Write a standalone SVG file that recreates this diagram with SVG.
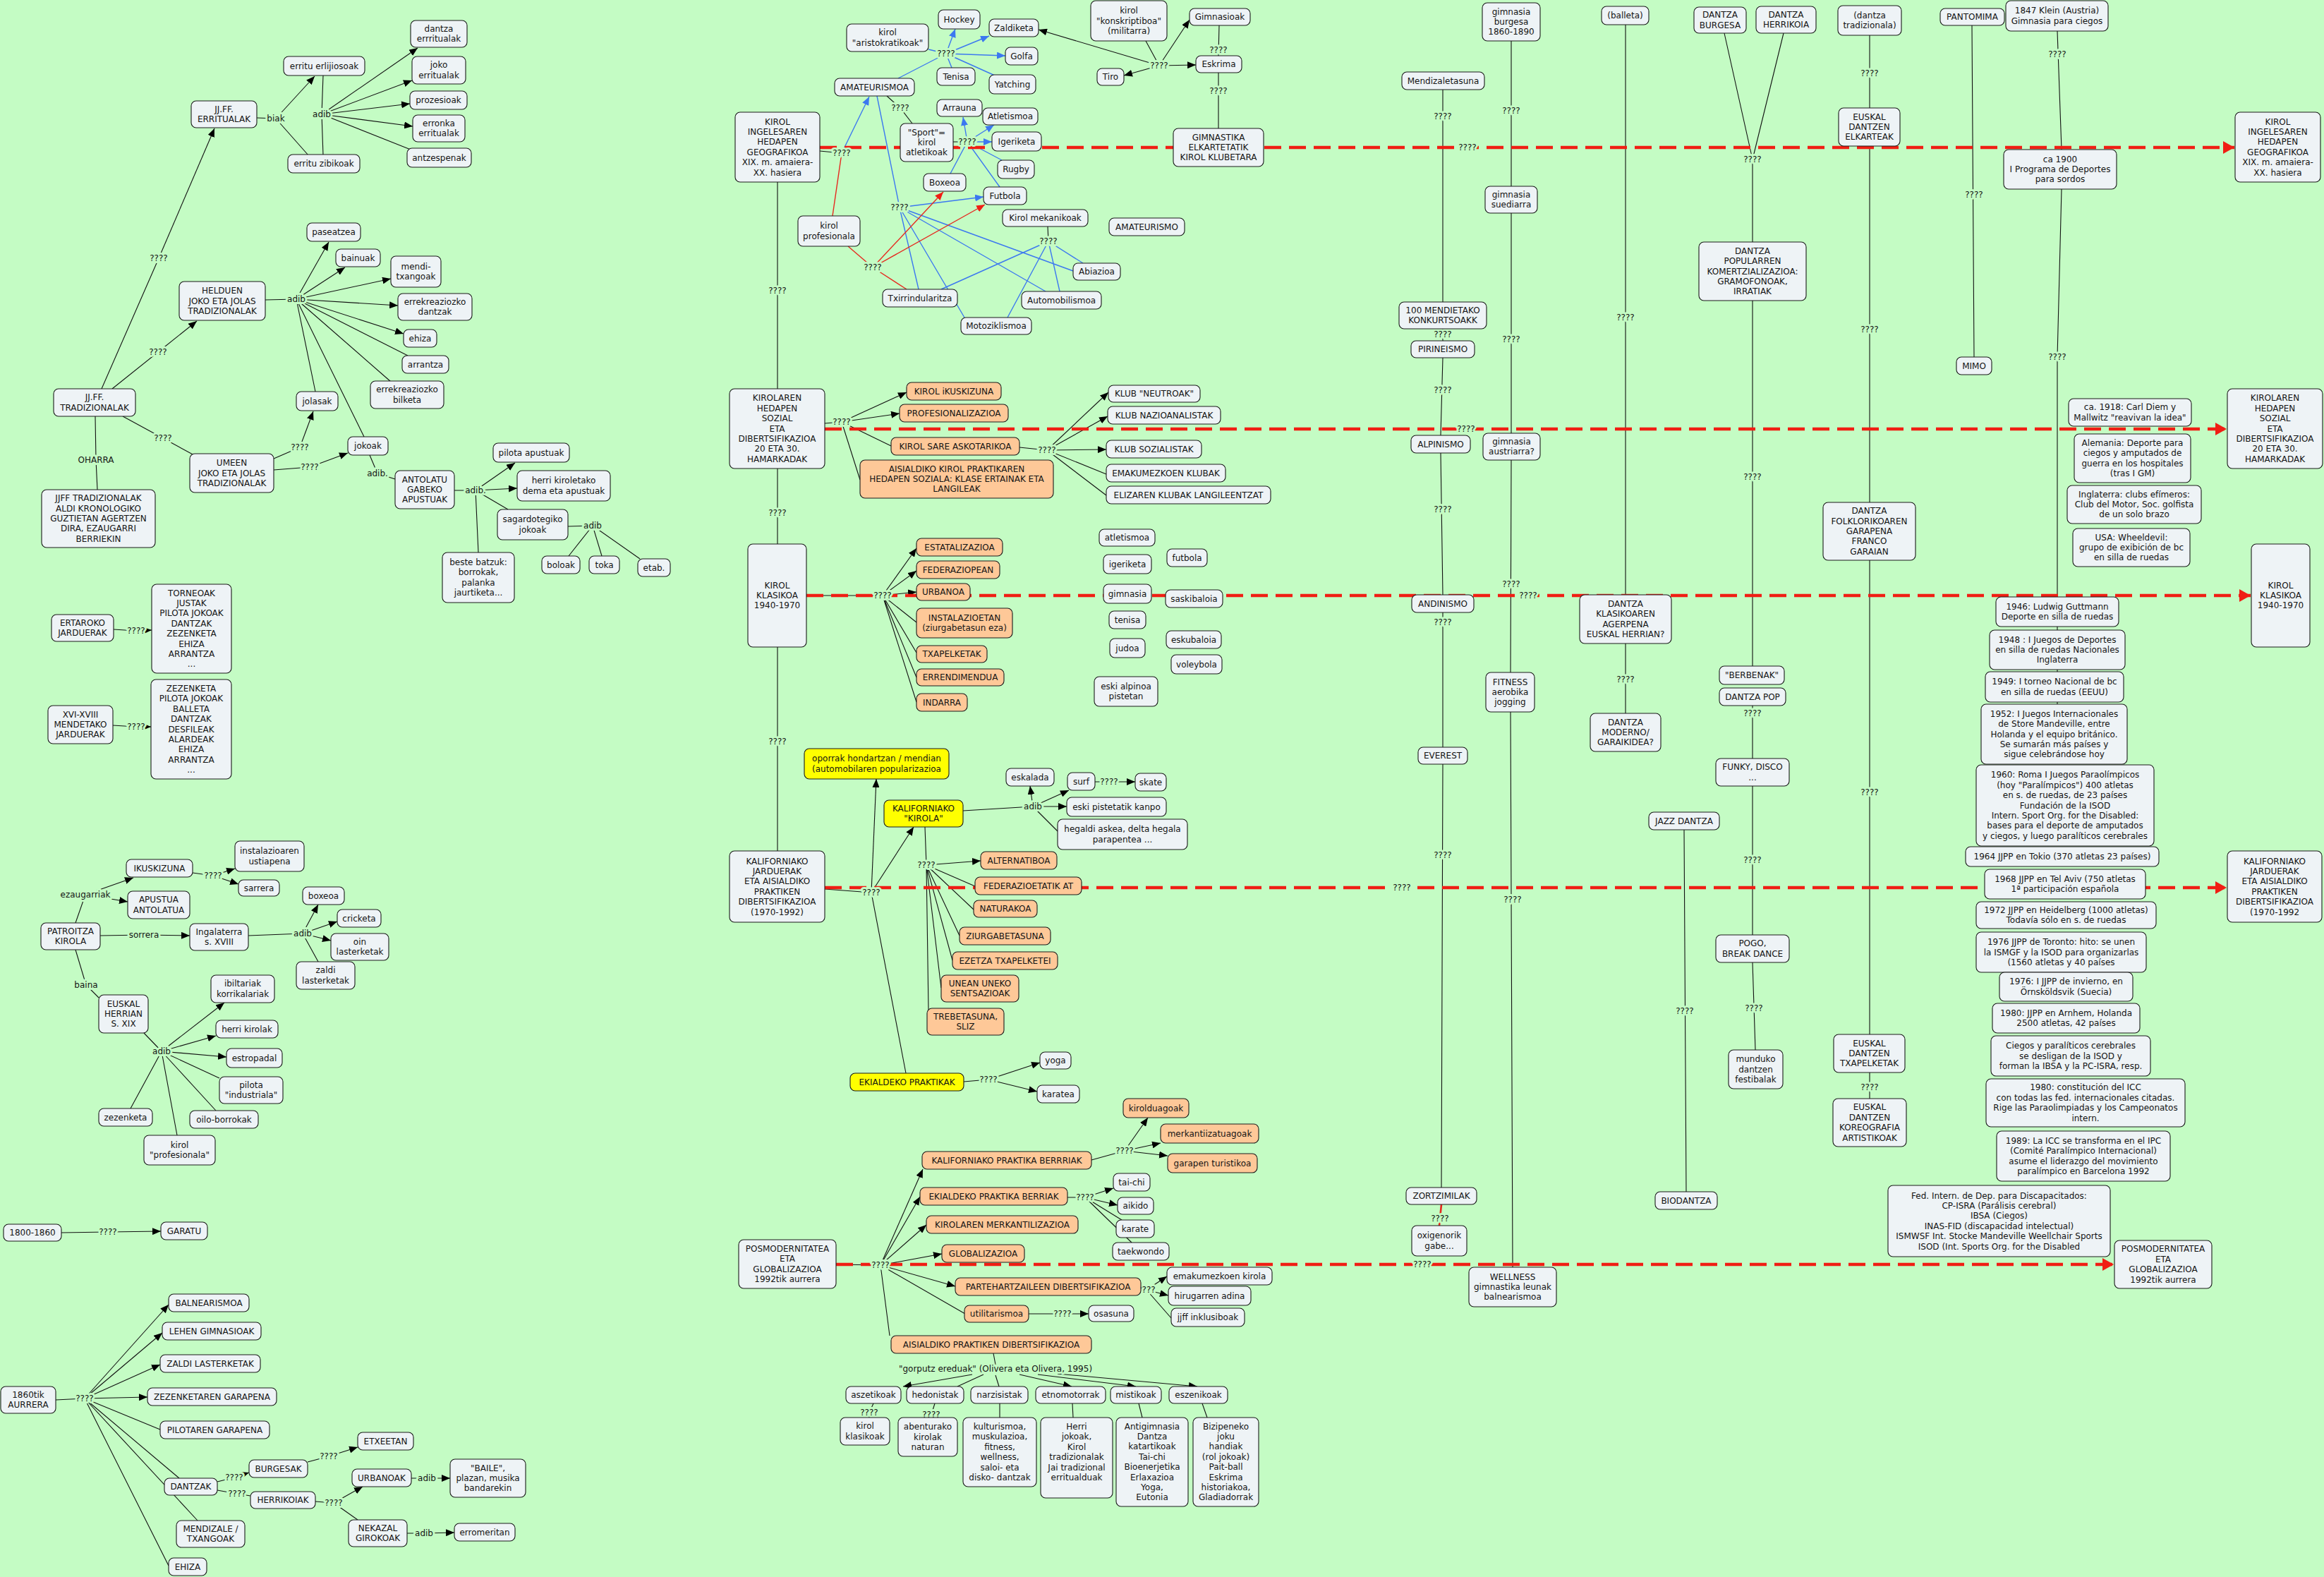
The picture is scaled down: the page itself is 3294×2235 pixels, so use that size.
<svg xmlns="http://www.w3.org/2000/svg" width="3294" height="2235" viewBox="0 0 3294 2235">
<style>
text{font-family:"DejaVu Sans",Verdana,sans-serif;font-size:12px;fill:#141414;text-anchor:middle}
.n rect{fill:#eef3f6;stroke:#1a1a1a;stroke-width:1.1;rx:7px;ry:7px}
.o rect{fill:#fec898}
.y rect{fill:#ffff00}
.k{stroke:#111;stroke-width:1.1;fill:none}
.ka{stroke:#111;stroke-width:1.1;fill:none;marker-end:url(#ab)}
.bl{stroke:#3c78f0;stroke-width:1.4;fill:none}
.bla{stroke:#3c78f0;stroke-width:1.4;fill:none;marker-end:url(#abl)}
.rd{stroke:#e6281e;stroke-width:1.4;fill:none}
.rda{stroke:#e6281e;stroke-width:1.4;fill:none;marker-end:url(#ard)}
.dash{stroke:#f01e14;stroke-width:4.5;stroke-dasharray:24 11;fill:none;marker-end:url(#abig)}
.lb text{stroke:#c4fcc4;stroke-width:6;stroke-linejoin:round;paint-order:stroke}
</style>
<defs>
<marker id="ab" viewBox="0 0 12 10" refX="12" refY="5" markerWidth="12" markerHeight="10" markerUnits="userSpaceOnUse" orient="auto"><path d="M0,0L12,5L0,10z" fill="#000"/></marker>
<marker id="abl" viewBox="0 0 12 10" refX="12" refY="5" markerWidth="12" markerHeight="10" markerUnits="userSpaceOnUse" orient="auto"><path d="M0,0L12,5L0,10z" fill="#3c78f0"/></marker>
<marker id="ard" viewBox="0 0 12 10" refX="12" refY="5" markerWidth="12" markerHeight="10" markerUnits="userSpaceOnUse" orient="auto"><path d="M0,0L12,5L0,10z" fill="#f01e14"/></marker>
<marker id="abig" viewBox="0 0 16 18" refX="16" refY="9" markerWidth="16" markerHeight="18" markerUnits="userSpaceOnUse" orient="auto"><path d="M0,0L16,9L0,18z" fill="#f01e14"/></marker>
</defs>
<rect x="0" y="0" width="3294" height="2235" fill="#c4fcc4"/>
<g id="connectors">
<path class="k" d="M144,551L225,366 M159,551L224,499 M174,590L231,621L275,645 M135,590L136,652L138,694 M364,167L391,168 M391,168L437,220 M458,107L456,162L458,220 M456,162L582,212 M376,425L420,424 M420,424L578,504 M420,424L554,541 M420,424L447,555 M420,424L516,619 M388,650L425,634 M388,666L439,662 M524,645L535,671L560,679 M644,695L674,695 M674,695L720,722 M674,695L678,783 M805,746L840,745 M840,745L806,788 M840,745L853,788 M840,745L907,792 M161,892L193,894 M160,1028L193,1030 M107,1308L121,1268 M273,1237L302,1241 M142,1326L204,1325 M352,1326L429,1323 M429,1323L451,1363 M107,1346L122,1396L140,1414 M204,1464L229,1490 M229,1490L311,1528 M229,1490L306,1574 M229,1490L251,1609 M229,1490L185,1571 M87,1747L153,1746 M79,1984L120,1982 M120,1982L227,2026 M120,1982L254,2095 M120,1982L280,2155 M120,1982L239,2219 M308,2100L332,2094 M308,2112L336,2117L355,2120 M436,2072L466,2064 M447,2128L473,2130 M473,2130L507,2154 M583,2095L605,2095 M577,2173L601,2173"/>
<path class="ka" d="M225,366L304,182"/><path class="ka" d="M224,499L279,455"/><path class="ka" d="M391,168L446,108"/><path class="ka" d="M456,162L592,68"/><path class="ka" d="M456,162L584,114"/><path class="ka" d="M456,162L581,147"/><path class="ka" d="M456,162L585,179"/><path class="ka" d="M420,424L466,343"/><path class="ka" d="M420,424L489,379"/><path class="ka" d="M420,424L554,395"/><path class="ka" d="M420,424L564,433"/><path class="ka" d="M420,424L572,473"/><path class="ka" d="M425,634L444,583"/><path class="ka" d="M439,662L493,642"/><path class="ka" d="M674,695L730,656"/><path class="ka" d="M674,695L733,692"/><path class="ka" d="M193,894L215,893"/><path class="ka" d="M193,1030L214,1030"/><path class="ka" d="M121,1268L189,1244"/><path class="ka" d="M121,1268L181,1278"/><path class="ka" d="M302,1241L333,1231"/><path class="ka" d="M302,1241L338,1253"/><path class="ka" d="M204,1325L269,1326"/><path class="ka" d="M429,1323L451,1282"/><path class="ka" d="M429,1323L478,1306"/><path class="ka" d="M429,1323L469,1333"/><path class="ka" d="M229,1490L318,1421"/><path class="ka" d="M229,1490L306,1468"/><path class="ka" d="M229,1490L321,1498"/><path class="ka" d="M153,1746L228,1745"/><path class="ka" d="M120,1982L239,1849"/><path class="ka" d="M120,1982L230,1889"/><path class="ka" d="M120,1982L227,1934"/><path class="ka" d="M120,1982L209,1980"/><path class="ka" d="M332,2094L353,2087"/><path class="ka" d="M466,2064L507,2051"/><path class="ka" d="M473,2130L514,2107"/><path class="ka" d="M605,2095L638,2095"/><path class="ka" d="M601,2173L644,2172"/>
<path class="k" d="M1162,214L1193,217 M1257,136L1276,153L1293,175 M1351,201L1371,201 M1485,321L1486,342 M1624,58L1643,93 M1728,36L1727,79 M1727,103L1727,182 M1102,258L1102,551 M1102,664L1102,771 M1102,917L1102,1206 M1169,600L1193,598 M1193,598L1263,632 M1193,598L1219,680 M1445,634L1484,638 M1484,638L1568,672 M1484,638L1568,702 M2045,127L2045,428 M2045,466L2045,483 M2045,507L2042,617 M2042,642L2045,843 M2045,868L2045,1059 M2045,1083L2043,1683 M2142,58L2142,264 M2142,302L2142,614 M2142,652L2141,953 M2141,1009L2144,1796 M2304,35L2304,843 M2304,912L2304,1011 M2444,47L2484,226L2528,47 M2484,226L2484,343 M2484,426L2484,944 M2484,1000L2484,1075 M2484,1114L2484,1325 M2484,1364L2488,1488 M2650,50L2650,153 M2650,207L2650,712 M2650,794L2650,1466 M2650,1520L2650,1557 M2387,1176L2390,1689 M2795,36L2798,506 M2916,44L2922,212 M2922,268L2916,506L2916,1000 M1143,844L1251,844 M1251,844L1299,882 M1251,844L1299,925 M1251,844L1299,960 M1251,844L1299,995 M1169,1260L1235,1265 M1235,1265L1284,1521 M1365,1149L1464,1143 M1464,1143L1499,1178 M1552,1108L1572,1108 M1311,1172L1313,1226 M1313,1226L1382,1256 M1313,1226L1380,1289 M1313,1226L1360,1326 M1313,1226L1350,1361 M1313,1226L1334,1400 M1313,1226L1316,1432 M1366,1533L1401,1530 M1185,1792L1248,1793 M1248,1793L1368,1862 M1248,1793L1261,1893 M1547,1644L1594,1631 M1513,1697L1538,1697 M1538,1697L1590,1729 M1538,1697L1604,1761 M1617,1826L1625,1828 M1625,1828L1660,1868 M1458,1862L1506,1862 M1408,1918L1411,1934 M1394,1948L1357,1965 M1411,1949L1416,1965 M1238,1989L1232,2002L1232,2009 M1325,1989L1320,2005L1318,2009 M1417,1989L1417,2009 M1520,1989L1521,2009 M1614,1989L1619,2009 M1704,1989L1711,2009"/>
<path class="ka" d="M1643,93L1472,42"/><path class="ka" d="M1643,93L1593,107"/><path class="ka" d="M1643,93L1686,28"/><path class="ka" d="M1643,93L1695,92"/><path class="ka" d="M1193,598L1285,556"/><path class="ka" d="M1193,598L1275,586"/><path class="ka" d="M1484,638L1571,556"/><path class="ka" d="M1484,638L1570,590"/><path class="ka" d="M1484,638L1568,637"/><path class="ka" d="M1251,844L1299,777"/><path class="ka" d="M1251,844L1299,809"/><path class="ka" d="M1251,844L1299,839"/><path class="ka" d="M1235,1265L1242,1104"/><path class="ka" d="M1235,1265L1295,1172"/><path class="ka" d="M1464,1143L1460,1114"/><path class="ka" d="M1464,1143L1515,1120"/><path class="ka" d="M1464,1143L1512,1143"/><path class="ka" d="M1572,1108L1609,1108"/><path class="ka" d="M1313,1226L1390,1220"/><path class="ka" d="M1401,1530L1474,1506"/><path class="ka" d="M1401,1530L1470,1547"/><path class="ka" d="M1248,1793L1308,1657"/><path class="ka" d="M1248,1793L1304,1696"/><path class="ka" d="M1248,1793L1313,1736"/><path class="ka" d="M1248,1793L1335,1777"/><path class="ka" d="M1248,1793L1354,1823"/><path class="ka" d="M1594,1631L1627,1584"/><path class="ka" d="M1594,1631L1645,1620"/><path class="ka" d="M1594,1631L1655,1638"/><path class="ka" d="M1538,1697L1578,1684"/><path class="ka" d="M1538,1697L1584,1708"/><path class="ka" d="M1625,1828L1654,1809"/><path class="ka" d="M1625,1828L1656,1836"/><path class="ka" d="M1506,1862L1543,1862"/><path class="ka" d="M1378,1948L1280,1965"/><path class="ka" d="M1445,1948L1519,1965"/><path class="ka" d="M1471,1948L1610,1965"/><path class="ka" d="M1499,1947L1697,1965"/>
<path class="bl" d="M1316,70L1341,76 M1273,111L1341,76 M1341,76L1349,96 M1341,76L1410,107 M1371,201L1420,227 M1371,201L1347,246 M1371,201L1417,265 M1243,136L1275,294 M1275,294L1302,410 M1275,294L1367,450 M1275,294L1482,413 M1275,294L1521,384 M1486,342L1535,373 M1486,342L1502,413 M1486,342L1428,450 M1486,342L1334,410"/>
<path class="bla" d="M1193,217L1232,137"/><path class="bla" d="M1341,76L1354,41"/><path class="bla" d="M1341,76L1402,51"/><path class="bla" d="M1341,76L1425,79"/><path class="bla" d="M1371,201L1406,201"/><path class="bla" d="M1371,201L1409,177"/><path class="bla" d="M1371,201L1365,166"/><path class="bla" d="M1275,294L1394,279"/>
<path class="rd" d="M1193,217L1180,306 M1202,349L1237,379 M1237,379L1285,410"/>
<path class="rd" style="stroke-width:2.6" d="M2043,1707L2041,1727L2040,1737"/>
<path class="rda" d="M1237,379L1337,272"/><path class="rda" d="M1237,379L1396,290"/>
<path class="dash" d="M1162,209H3167"/><path class="dash" d="M1169,608H3156"/><path class="dash" d="M1143,844H3190"/><path class="dash" d="M1169,1258H3156"/><path class="dash" d="M1185,1792H2996"/>
<g class="lb">
<text x="225" y="370">????</text><text x="224" y="503">????</text><text x="231" y="625">????</text><text x="136" y="656">OHARRA</text><text x="391" y="172">biak</text><text x="456" y="166">adib</text><text x="420" y="428">adib</text><text x="425" y="638">????</text><text x="439" y="666">????</text><text x="535" y="675">adib.</text><text x="674" y="699">adib.</text><text x="840" y="749">adib</text><text x="193" y="898">????</text><text x="193" y="1034">????</text><text x="302" y="1245">????</text><text x="121" y="1272">ezaugarriak</text><text x="204" y="1329">sorrera</text><text x="429" y="1327">adib</text><text x="122" y="1400">baina</text><text x="229" y="1494">adib</text><text x="153" y="1750">????</text><text x="120" y="1986">????</text><text x="332" y="2098">????</text><text x="336" y="2121">????</text><text x="466" y="2068">????</text><text x="473" y="2134">????</text><text x="605" y="2099">adib</text><text x="601" y="2177">adib</text>
<text x="1341" y="80">????</text><text x="1276" y="157">????</text><text x="1371" y="205">????</text><text x="1193" y="221">????</text><text x="1275" y="298">????</text><text x="1486" y="346">????</text><text x="1237" y="383">????</text><text x="1102" y="416">????</text><text x="1643" y="97">????</text><text x="1727" y="75">????</text><text x="1727" y="133">????</text><text x="1193" y="602">????</text><text x="1484" y="642">????</text><text x="1102" y="731">????</text><text x="2080" y="213">????</text><text x="2045" y="169">????</text><text x="2142" y="161">????</text><text x="2045" y="478">????</text><text x="2142" y="485">????</text><text x="2304" y="454">????</text><text x="2045" y="557">????</text><text x="2078" y="612">????</text><text x="2045" y="726">????</text><text x="2650" y="108">????</text><text x="2484" y="230">????</text><text x="2916" y="81">????</text><text x="2798" y="280">????</text><text x="2650" y="471">????</text><text x="2916" y="510">????</text><text x="2484" y="680">????</text><text x="1251" y="848">????</text><text x="2045" y="886">????</text><text x="2142" y="832">????</text><text x="2166" y="848">????</text><text x="2304" y="967">????</text><text x="2484" y="1015">????</text><text x="2650" y="1127">????</text><text x="2484" y="1223">????</text><text x="1102" y="1055">????</text><text x="1572" y="1112">????</text><text x="1464" y="1147">adib</text><text x="1313" y="1230">????</text><text x="1235" y="1269">????</text><text x="1987" y="1262">????</text><text x="2045" y="1216">????</text><text x="2144" y="1279">????</text><text x="2388" y="1437">????</text><text x="2486" y="1433">????</text><text x="1401" y="1534">????</text><text x="1594" y="1635">????</text><text x="1538" y="1701">????</text><text x="1248" y="1797">????</text><text x="1625" y="1832">????</text><text x="1506" y="1866">????</text><text x="1411" y="1944">"gorputz ereduak" (Olivera eta Olivera, 1995)</text><text x="1232" y="2006">????</text><text x="1320" y="2009">????</text><text x="2041" y="1731">????</text><text x="2016" y="1796">????</text><text x="2650" y="1545">????</text>
</g>
</g>
<g id="nodes">
<g id="n1" class="n"><rect x="582" y="29" width="80" height="38"/><text x="622" y="44.8"><tspan x="622">dantza</tspan><tspan x="622" dy="14.4">errritualak</tspan></text></g>
<g id="n2" class="n"><rect x="584" y="80" width="76" height="39"/><text x="622" y="96.3"><tspan x="622">joko</tspan><tspan x="622" dy="14.4">erritualak</tspan></text></g>
<g id="n3" class="n"><rect x="581" y="129" width="81" height="26"/><text x="621.5" y="146">prozesioak</text></g>
<g id="n4" class="n"><rect x="585" y="163" width="74" height="38"/><text x="622" y="178.8"><tspan x="622">erronka</tspan><tspan x="622" dy="14.4">erritualak</tspan></text></g>
<g id="n5" class="n"><rect x="577" y="210" width="91" height="27"/><text x="622.5" y="227.5">antzespenak</text></g>
<g id="n6" class="n"><rect x="402" y="80" width="115" height="27"/><text x="459.5" y="97.5">erritu erlijiosoak</text></g>
<g id="n7" class="n"><rect x="408" y="219" width="102" height="26"/><text x="459" y="236">erritu zibikoak</text></g>
<g id="n8" class="n"><rect x="271" y="143" width="93" height="38"/><text x="317.5" y="158.8"><tspan x="317.5">JJ.FF.</tspan><tspan x="317.5" dy="14.4">ERRITUALAK</tspan></text></g>
<g id="n9" class="n"><rect x="435" y="316" width="76" height="26"/><text x="473" y="333">paseatzea</text></g>
<g id="n10" class="n"><rect x="476" y="353" width="63" height="25"/><text x="507.5" y="369.5">bainuak</text></g>
<g id="n11" class="n"><rect x="554" y="363" width="71" height="44"/><text x="589.5" y="381.8"><tspan x="589.5">mendi-</tspan><tspan x="589.5" dy="14.4">txangoak</tspan></text></g>
<g id="n12" class="n"><rect x="564" y="416" width="105" height="38"/><text x="616.5" y="431.8"><tspan x="616.5">errekreaziozko</tspan><tspan x="616.5" dy="14.4">dantzak</tspan></text></g>
<g id="n13" class="n"><rect x="572" y="467" width="47" height="25"/><text x="595.5" y="483.5">ehiza</text></g>
<g id="n14" class="n"><rect x="570" y="504" width="66" height="25"/><text x="603" y="520.5">arrantza</text></g>
<g id="n15" class="n"><rect x="525" y="540" width="104" height="39"/><text x="577" y="556.3"><tspan x="577">errekreaziozko</tspan><tspan x="577" dy="14.4">bilketa</tspan></text></g>
<g id="n16" class="n"><rect x="420" y="555" width="59" height="27"/><text x="449.5" y="572.5">jolasak</text></g>
<g id="n17" class="n"><rect x="493" y="619" width="57" height="26"/><text x="521.5" y="636">jokoak</text></g>
<g id="n18" class="n"><rect x="254" y="399" width="122" height="55"/><text x="315" y="416.1"><tspan x="315">HELDUEN</tspan><tspan x="315" dy="14.4">JOKO ETA JOLAS</tspan><tspan x="315" dy="14.4">TRADIZIONALAK</tspan></text></g>
<g id="n19" class="n"><rect x="76" y="551" width="116" height="39"/><text x="134" y="567.3"><tspan x="134">JJ.FF.</tspan><tspan x="134" dy="14.4">TRADIZIONALAK</tspan></text></g>
<g id="n20" class="n"><rect x="269" y="643" width="119" height="55"/><text x="328.5" y="660.1"><tspan x="328.5">UMEEN</tspan><tspan x="328.5" dy="14.4">JOKO ETA JOLAS</tspan><tspan x="328.5" dy="14.4">TRADIZIONALAK</tspan></text></g>
<g id="n21" class="n"><rect x="560" y="667" width="84" height="54"/><text x="602" y="683.6"><tspan x="602">ANTOLATU</tspan><tspan x="602" dy="14.4">GABEKO</tspan><tspan x="602" dy="14.4">APUSTUAK</tspan></text></g>
<g id="n22" class="n"><rect x="699" y="628" width="108" height="27"/><text x="753" y="645.5">pilota apustuak</text></g>
<g id="n23" class="n"><rect x="733" y="667" width="132" height="43"/><text x="799" y="685.3"><tspan x="799">herri kiroletako</tspan><tspan x="799" dy="14.4">dema eta apustuak</tspan></text></g>
<g id="n24" class="n"><rect x="705" y="722" width="100" height="43"/><text x="755" y="740.3"><tspan x="755">sagardotegiko</tspan><tspan x="755" dy="14.4">jokoak</tspan></text></g>
<g id="n25" class="n"><rect x="627" y="783" width="102" height="71"/><text x="678" y="800.9"><tspan x="678">beste batzuk:</tspan><tspan x="678" dy="14.4">borrokak,</tspan><tspan x="678" dy="14.4">palanka</tspan><tspan x="678" dy="14.4">jaurtiketa...</tspan></text></g>
<g id="n26" class="n"><rect x="768" y="788" width="54" height="25"/><text x="795" y="804.5">boloak</text></g>
<g id="n27" class="n"><rect x="835" y="788" width="43" height="25"/><text x="856.5" y="804.5">toka</text></g>
<g id="n28" class="n"><rect x="904" y="792" width="46" height="25"/><text x="927" y="808.5">etab.</text></g>
<g id="n29" class="n"><rect x="59" y="694" width="161" height="82"/><text x="139.5" y="710.2"><tspan x="139.5">JJFF TRADIZIONALAK</tspan><tspan x="139.5" dy="14.4">ALDI KRONOLOGIKO</tspan><tspan x="139.5" dy="14.4">GUZTIETAN AGERTZEN</tspan><tspan x="139.5" dy="14.4">DIRA, EZAUGARRI</tspan><tspan x="139.5" dy="14.4">BERRIEKIN</tspan></text></g>
<g id="n30" class="n"><rect x="73" y="871" width="88" height="38"/><text x="117" y="886.8"><tspan x="117">ERTAROKO</tspan><tspan x="117" dy="14.4">JARDUERAK</tspan></text></g>
<g id="n31" class="n"><rect x="215" y="828" width="113" height="126"/><text x="271.5" y="844.6"><tspan x="271.5">TORNEOAK</tspan><tspan x="271.5" dy="14.4">JUSTAK</tspan><tspan x="271.5" dy="14.4">PILOTA JOKOAK</tspan><tspan x="271.5" dy="14.4">DANTZAK</tspan><tspan x="271.5" dy="14.4">ZEZENKETA</tspan><tspan x="271.5" dy="14.4">EHIZA</tspan><tspan x="271.5" dy="14.4">ARRANTZA</tspan><tspan x="271.5" dy="14.4">...</tspan></text></g>
<g id="n32" class="n"><rect x="68" y="1000" width="92" height="54"/><text x="114" y="1016.6"><tspan x="114">XVI-XVIII</tspan><tspan x="114" dy="14.4">MENDETAKO</tspan><tspan x="114" dy="14.4">JARDUERAK</tspan></text></g>
<g id="n33" class="n"><rect x="214" y="963" width="114" height="141"/><text x="271" y="979.9"><tspan x="271">ZEZENKETA</tspan><tspan x="271" dy="14.4">PILOTA JOKOAK</tspan><tspan x="271" dy="14.4">BALLETA</tspan><tspan x="271" dy="14.4">DANTZAK</tspan><tspan x="271" dy="14.4">DESFILEAK</tspan><tspan x="271" dy="14.4">ALARDEAK</tspan><tspan x="271" dy="14.4">EHIZA</tspan><tspan x="271" dy="14.4">ARRANTZA</tspan><tspan x="271" dy="14.4">...</tspan></text></g>
<g id="n34" class="n"><rect x="333" y="1192" width="98" height="43"/><text x="382" y="1210.3"><tspan x="382">instalazioaren</tspan><tspan x="382" dy="14.4">ustiapena</tspan></text></g>
<g id="n35" class="n"><rect x="179" y="1218" width="94" height="25"/><text x="226" y="1234.5">IKUSKIZUNA</text></g>
<g id="n36" class="n"><rect x="338" y="1247" width="58" height="23"/><text x="367" y="1262.5">sarrera</text></g>
<g id="n37" class="n"><rect x="181" y="1263" width="88" height="39"/><text x="225" y="1279.3"><tspan x="225">APUSTUA</tspan><tspan x="225" dy="14.4">ANTOLATUA</tspan></text></g>
<g id="n38" class="n"><rect x="429" y="1257" width="59" height="25"/><text x="458.5" y="1273.5">boxeoa</text></g>
<g id="n39" class="n"><rect x="478" y="1289" width="62" height="25"/><text x="509" y="1305.5">cricketa</text></g>
<g id="n40" class="n"><rect x="469" y="1323" width="82" height="38"/><text x="510" y="1338.8"><tspan x="510">oin</tspan><tspan x="510" dy="14.4">lasterketak</tspan></text></g>
<g id="n41" class="n"><rect x="420" y="1363" width="83" height="39"/><text x="461.5" y="1379.3"><tspan x="461.5">zaldi</tspan><tspan x="461.5" dy="14.4">lasterketak</tspan></text></g>
<g id="n42" class="n"><rect x="58" y="1308" width="84" height="38"/><text x="100" y="1323.8"><tspan x="100">PATROITZA</tspan><tspan x="100" dy="14.4">KIROLA</tspan></text></g>
<g id="n43" class="n"><rect x="269" y="1309" width="83" height="38"/><text x="310.5" y="1324.8"><tspan x="310.5">Ingalaterra</tspan><tspan x="310.5" dy="14.4">s. XVIII</tspan></text></g>
<g id="n44" class="n"><rect x="140" y="1410" width="70" height="54"/><text x="175" y="1426.6"><tspan x="175">EUSKAL</tspan><tspan x="175" dy="14.4">HERRIAN</tspan><tspan x="175" dy="14.4">S. XIX</tspan></text></g>
<g id="n45" class="n"><rect x="299" y="1382" width="90" height="39"/><text x="344" y="1398.3"><tspan x="344">ibiltariak</tspan><tspan x="344" dy="14.4">korrikalariak</tspan></text></g>
<g id="n46" class="n"><rect x="306" y="1446" width="88" height="25"/><text x="350" y="1462.5">herri kirolak</text></g>
<g id="n47" class="n"><rect x="321" y="1486" width="79" height="27"/><text x="360.5" y="1503.5">estropadal</text></g>
<g id="n48" class="n"><rect x="311" y="1526" width="90" height="38"/><text x="356" y="1541.8"><tspan x="356">pilota</tspan><tspan x="356" dy="14.4">"industriala"</tspan></text></g>
<g id="n49" class="n"><rect x="140" y="1571" width="76" height="25"/><text x="178" y="1587.5">zezenketa</text></g>
<g id="n50" class="n"><rect x="269" y="1574" width="97" height="25"/><text x="317.5" y="1590.5">oilo-borrokak</text></g>
<g id="n51" class="n"><rect x="204" y="1609" width="101" height="42"/><text x="254.5" y="1626.8"><tspan x="254.5">kirol</tspan><tspan x="254.5" dy="14.4">"profesionala"</tspan></text></g>
<g id="n52" class="n"><rect x="5" y="1735" width="82" height="24"/><text x="46" y="1751">1800-1860</text></g>
<g id="n53" class="n"><rect x="228" y="1732" width="66" height="25"/><text x="261" y="1748.5">GARATU</text></g>
<g id="n54" class="n"><rect x="239" y="1834" width="114" height="25"/><text x="296" y="1850.5">BALNEARISMOA</text></g>
<g id="n55" class="n"><rect x="230" y="1874" width="140" height="25"/><text x="300" y="1890.5">LEHEN GIMNASIOAK</text></g>
<g id="n56" class="n"><rect x="227" y="1920" width="142" height="25"/><text x="298" y="1936.5">ZALDI LASTERKETAK</text></g>
<g id="n57" class="n"><rect x="1" y="1965" width="78" height="38"/><text x="40" y="1980.8"><tspan x="40">1860tik</tspan><tspan x="40" dy="14.4">AURRERA</tspan></text></g>
<g id="n58" class="n"><rect x="209" y="1967" width="183" height="25"/><text x="300.5" y="1983.5">ZEZENKETAREN GARAPENA</text></g>
<g id="n59" class="n"><rect x="227" y="2014" width="155" height="25"/><text x="304.5" y="2030.5">PILOTAREN GARAPENA</text></g>
<g id="n60" class="n"><rect x="507" y="2030" width="79" height="25"/><text x="546.5" y="2046.5">ETXEETAN</text></g>
<g id="n61" class="n"><rect x="353" y="2069" width="83" height="25"/><text x="394.5" y="2085.5">BURGESAK</text></g>
<g id="n62" class="n"><rect x="233" y="2095" width="75" height="24"/><text x="270.5" y="2111">DANTZAK</text></g>
<g id="n63" class="n"><rect x="355" y="2114" width="92" height="24"/><text x="401" y="2130">HERRIKOIAK</text></g>
<g id="n64" class="n"><rect x="499" y="2082" width="84" height="25"/><text x="541" y="2098.5">URBANOAK</text></g>
<g id="n65" class="n"><rect x="638" y="2068" width="107" height="54"/><text x="691.5" y="2084.6"><tspan x="691.5">"BAILE",</tspan><tspan x="691.5" dy="14.4">plazan, musika</tspan><tspan x="691.5" dy="14.4">bandarekin</tspan></text></g>
<g id="n66" class="n"><rect x="494" y="2154" width="83" height="38"/><text x="535.5" y="2169.8"><tspan x="535.5">NEKAZAL</tspan><tspan x="535.5" dy="14.4">GIROKOAK</tspan></text></g>
<g id="n67" class="n"><rect x="644" y="2159" width="86" height="25"/><text x="687" y="2175.5">erromeritan</text></g>
<g id="n68" class="n"><rect x="250" y="2155" width="97" height="38"/><text x="298.5" y="2170.8"><tspan x="298.5">MENDIZALE /</tspan><tspan x="298.5" dy="14.4">TXANGOAK</tspan></text></g>
<g id="n69" class="n"><rect x="239" y="2208" width="54" height="25"/><text x="266" y="2224.5">EHIZA</text></g>
<g id="n70" class="n"><rect x="1330" y="14" width="59" height="27"/><text x="1359.5" y="31.5">Hockey</text></g>
<g id="n71" class="n"><rect x="1200" y="34" width="116" height="39"/><text x="1258" y="50.3"><tspan x="1258">kirol</tspan><tspan x="1258" dy="14.4">"aristokratikoak"</tspan></text></g>
<g id="n72" class="n"><rect x="1402" y="27" width="70" height="25"/><text x="1437" y="43.5">Zaldiketa</text></g>
<g id="n73" class="n"><rect x="1425" y="67" width="46" height="25"/><text x="1448" y="83.5">Golfa</text></g>
<g id="n74" class="n"><rect x="1328" y="96" width="54" height="25"/><text x="1355" y="112.5">Tenisa</text></g>
<g id="n75" class="n"><rect x="1402" y="106" width="66" height="27"/><text x="1435" y="123.5">Yatching</text></g>
<g id="n76" class="n"><rect x="1183" y="111" width="113" height="25"/><text x="1239.5" y="127.5">AMATEURISMOA</text></g>
<g id="n77" class="n"><rect x="1328" y="141" width="64" height="24"/><text x="1360" y="157">Arrauna</text></g>
<g id="n78" class="n"><rect x="1393" y="153" width="78" height="24"/><text x="1432" y="169">Atletismoa</text></g>
<g id="n79" class="n"><rect x="1276" y="175" width="75" height="54"/><text x="1313.5" y="191.6"><tspan x="1313.5">"Sport"=</tspan><tspan x="1313.5" dy="14.4">kirol</tspan><tspan x="1313.5" dy="14.4">atletikoak</tspan></text></g>
<g id="n80" class="n"><rect x="1406" y="187" width="70" height="27"/><text x="1441" y="204.5">Igeriketa</text></g>
<g id="n81" class="n"><rect x="1414" y="227" width="52" height="26"/><text x="1440" y="244">Rugby</text></g>
<g id="n82" class="n"><rect x="1042" y="159" width="120" height="99"/><text x="1102" y="176.5"><tspan x="1102">KIROL</tspan><tspan x="1102" dy="14.4">INGELESAREN</tspan><tspan x="1102" dy="14.4">HEDAPEN</tspan><tspan x="1102" dy="14.4">GEOGRAFIKOA</tspan><tspan x="1102" dy="14.4">XIX. m. amaiera-</tspan><tspan x="1102" dy="14.4">XX. hasiera</tspan></text></g>
<g id="n83" class="n"><rect x="1309" y="246" width="60" height="25"/><text x="1339" y="262.5">Boxeoa</text></g>
<g id="n84" class="n"><rect x="1394" y="265" width="61" height="25"/><text x="1424.5" y="281.5">Futbola</text></g>
<g id="n85" class="n"><rect x="1421" y="297" width="121" height="24"/><text x="1481.5" y="313">Kirol mekanikoak</text></g>
<g id="n86" class="n"><rect x="1131" y="306" width="88" height="43"/><text x="1175" y="324.3"><tspan x="1175">kirol</tspan><tspan x="1175" dy="14.4">profesionala</tspan></text></g>
<g id="n87" class="n"><rect x="1521" y="373" width="67" height="24"/><text x="1554.5" y="389">Abiazioa</text></g>
<g id="n88" class="n"><rect x="1251" y="410" width="106" height="25"/><text x="1304" y="426.5">Txirrindularitza</text></g>
<g id="n89" class="n"><rect x="1448" y="413" width="113" height="25"/><text x="1504.5" y="429.5">Automobilismoa</text></g>
<g id="n90" class="n"><rect x="1362" y="450" width="100" height="24"/><text x="1412" y="466">Motoziklismoa</text></g>
<g id="n91" class="n"><rect x="1572" y="309" width="107" height="25"/><text x="1625.5" y="325.5">AMATEURISMO</text></g>
<g id="n92" class="n"><rect x="1546" y="1" width="108" height="57"/><text x="1600" y="19.1"><tspan x="1600">kirol</tspan><tspan x="1600" dy="14.4">"konskriptiboa"</tspan><tspan x="1600" dy="14.4">(militarra)</tspan></text></g>
<g id="n93" class="n"><rect x="1555" y="97" width="38" height="24"/><text x="1574" y="113">Tiro</text></g>
<g id="n94" class="n"><rect x="1686" y="12" width="86" height="24"/><text x="1729" y="28">Gimnasioak</text></g>
<g id="n95" class="n"><rect x="1695" y="79" width="65" height="24"/><text x="1727.5" y="95">Eskrima</text></g>
<g id="n96" class="n"><rect x="1663" y="182" width="128" height="54"/><text x="1727" y="198.6"><tspan x="1727">GIMNASTIKA</tspan><tspan x="1727" dy="14.4">ELKARTETATIK</tspan><tspan x="1727" dy="14.4">KIROL KLUBETARA</tspan></text></g>
<g id="n97" class="n"><rect x="1034" y="551" width="135" height="113"/><text x="1101.5" y="568.3"><tspan x="1101.5">KIROLAREN</tspan><tspan x="1101.5" dy="14.4">HEDAPEN</tspan><tspan x="1101.5" dy="14.4">SOZIAL</tspan><tspan x="1101.5" dy="14.4">ETA</tspan><tspan x="1101.5" dy="14.4">DIBERTSIFIKAZIOA</tspan><tspan x="1101.5" dy="14.4">20 ETA 30.</tspan><tspan x="1101.5" dy="14.4">HAMARKADAK</tspan></text></g>
<g id="n98" class="n o"><rect x="1285" y="542" width="134" height="25"/><text x="1352" y="558.5">KIROL iKUSKIZUNA</text></g>
<g id="n99" class="n o"><rect x="1275" y="573" width="154" height="25"/><text x="1352" y="589.5">PROFESIONALIZAZIOA</text></g>
<g id="n100" class="n o"><rect x="1263" y="620" width="182" height="25"/><text x="1354" y="636.5">KIROL SARE ASKOTARIKOA</text></g>
<g id="n101" class="n o"><rect x="1219" y="652" width="274" height="54"/><text x="1356" y="668.6"><tspan x="1356">AISIALDIKO KIROL PRAKTIKAREN</tspan><tspan x="1356" dy="14.4">HEDAPEN SOZIALA: KLASE ERTAINAK ETA</tspan><tspan x="1356" dy="14.4">LANGILEAK</tspan></text></g>
<g id="n102" class="n"><rect x="1571" y="546" width="130" height="24"/><text x="1636" y="562">KLUB "NEUTROAK"</text></g>
<g id="n103" class="n"><rect x="1570" y="576" width="160" height="25"/><text x="1650" y="592.5">KLUB NAZIOANALISTAK</text></g>
<g id="n104" class="n"><rect x="1568" y="624" width="135" height="25"/><text x="1635.5" y="640.5">KLUB SOZIALISTAK</text></g>
<g id="n105" class="n"><rect x="1568" y="658" width="169" height="25"/><text x="1652.5" y="674.5">EMAKUMEZKOEN KLUBAK</text></g>
<g id="n106" class="n"><rect x="1568" y="689" width="233" height="25"/><text x="1684.5" y="705.5">ELIZAREN KLUBAK LANGILEENTZAT</text></g>
<g id="n107" class="n"><rect x="1987" y="102" width="117" height="25"/><text x="2045.5" y="118.5">Mendizaletasuna</text></g>
<g id="n108" class="n"><rect x="2101" y="4" width="82" height="54"/><text x="2142" y="20.6"><tspan x="2142">gimnasia</tspan><tspan x="2142" dy="14.4">burgesa</tspan><tspan x="2142" dy="14.4">1860-1890</tspan></text></g>
<g id="n109" class="n"><rect x="2270" y="9" width="67" height="26"/><text x="2303.5" y="26">(balleta)</text></g>
<g id="n110" class="n"><rect x="2401" y="10" width="74" height="37"/><text x="2438" y="25.3"><tspan x="2438">DANTZA</tspan><tspan x="2438" dy="14.4">BURGESA</tspan></text></g>
<g id="n111" class="n"><rect x="2105" y="264" width="74" height="38"/><text x="2142" y="279.8"><tspan x="2142">gimnasia</tspan><tspan x="2142" dy="14.4">suediarra</tspan></text></g>
<g id="n112" class="n"><rect x="2408" y="343" width="152" height="83"/><text x="2484" y="359.7"><tspan x="2484">DANTZA</tspan><tspan x="2484" dy="14.4">POPULARREN</tspan><tspan x="2484" dy="14.4">KOMERTZIALIZAZIOA:</tspan><tspan x="2484" dy="14.4">GRAMOFONOAK,</tspan><tspan x="2484" dy="14.4">IRRATIAK</tspan></text></g>
<g id="n113" class="n"><rect x="1983" y="428" width="124" height="38"/><text x="2045" y="443.8"><tspan x="2045">100 MENDIETAKO</tspan><tspan x="2045" dy="14.4">KONKURTSOAKK</tspan></text></g>
<g id="n114" class="n"><rect x="2000" y="483" width="90" height="24"/><text x="2045" y="499">PIRINEISMO</text></g>
<g id="n115" class="n"><rect x="2000" y="617" width="84" height="25"/><text x="2042" y="633.5">ALPINISMO</text></g>
<g id="n116" class="n"><rect x="2102" y="614" width="81" height="38"/><text x="2142.5" y="629.8"><tspan x="2142.5">gimnasia</tspan><tspan x="2142.5" dy="14.4">austriarra?</tspan></text></g>
<g id="n117" class="n"><rect x="2489" y="9" width="85" height="38"/><text x="2531.5" y="24.8"><tspan x="2531.5">DANTZA</tspan><tspan x="2531.5" dy="14.4">HERRIKOIA</tspan></text></g>
<g id="n118" class="n"><rect x="2605" y="8" width="90" height="42"/><text x="2650" y="25.8"><tspan x="2650">(dantza</tspan><tspan x="2650" dy="14.4">tradizionala)</tspan></text></g>
<g id="n119" class="n"><rect x="2606" y="153" width="87" height="54"/><text x="2649.5" y="169.6"><tspan x="2649.5">EUSKAL</tspan><tspan x="2649.5" dy="14.4">DANTZEN</tspan><tspan x="2649.5" dy="14.4">ELKARTEAK</tspan></text></g>
<g id="n120" class="n"><rect x="2750" y="12" width="91" height="24"/><text x="2795.5" y="28">PANTOMIMA</text></g>
<g id="n121" class="n"><rect x="2843" y="1" width="145" height="43"/><text x="2915.5" y="19.3"><tspan x="2915.5">1847 Klein (Austria)</tspan><tspan x="2915.5" dy="14.4">Gimnasia para ciegos</tspan></text></g>
<g id="n122" class="n"><rect x="2840" y="212" width="160" height="56"/><text x="2920" y="229.6"><tspan x="2920">ca 1900</tspan><tspan x="2920" dy="14.4">I Programa de Deportes</tspan><tspan x="2920" dy="14.4">para sordos</tspan></text></g>
<g id="n123" class="n"><rect x="3168" y="159" width="121" height="99"/><text x="3228.5" y="176.5"><tspan x="3228.5">KIROL</tspan><tspan x="3228.5" dy="14.4">INGELESAREN</tspan><tspan x="3228.5" dy="14.4">HEDAPEN</tspan><tspan x="3228.5" dy="14.4">GEOGRAFIKOA</tspan><tspan x="3228.5" dy="14.4">XIX. m. amaiera-</tspan><tspan x="3228.5" dy="14.4">XX. hasiera</tspan></text></g>
<g id="n124" class="n"><rect x="2773" y="506" width="50" height="25"/><text x="2798" y="522.5">MIMO</text></g>
<g id="n125" class="n"><rect x="2932" y="565" width="174" height="39"/><text x="3019" y="581.3"><tspan x="3019">ca. 1918: Carl Diem y</tspan><tspan x="3019" dy="14.4">Mallwitz "reavivan la idea"</tspan></text></g>
<g id="n126" class="n"><rect x="3157" y="551" width="135" height="113"/><text x="3224.5" y="568.3"><tspan x="3224.5">KIROLAREN</tspan><tspan x="3224.5" dy="14.4">HEDAPEN</tspan><tspan x="3224.5" dy="14.4">SOZIAL</tspan><tspan x="3224.5" dy="14.4">ETA</tspan><tspan x="3224.5" dy="14.4">DIBERTSIFIKAZIOA</tspan><tspan x="3224.5" dy="14.4">20 ETA 30.</tspan><tspan x="3224.5" dy="14.4">HAMARKADAK</tspan></text></g>
<g id="n127" class="n"><rect x="2940" y="615" width="165" height="69"/><text x="3022.5" y="631.9"><tspan x="3022.5">Alemania: Deporte para</tspan><tspan x="3022.5" dy="14.4">ciegos y amputados de</tspan><tspan x="3022.5" dy="14.4">guerra en los hospitales</tspan><tspan x="3022.5" dy="14.4">(tras I GM)</tspan></text></g>
<g id="n128" class="n"><rect x="2930" y="688" width="190" height="54"/><text x="3025" y="704.6"><tspan x="3025">Inglaterra: clubs efímeros:</tspan><tspan x="3025" dy="14.4">Club del Motor, Soc. golfista</tspan><tspan x="3025" dy="14.4">de un solo brazo</tspan></text></g>
<g id="n129" class="n"><rect x="2584" y="712" width="131" height="82"/><text x="2649.5" y="728.2"><tspan x="2649.5">DANTZA</tspan><tspan x="2649.5" dy="14.4">FOLKLORIKOAREN</tspan><tspan x="2649.5" dy="14.4">GARAPENA</tspan><tspan x="2649.5" dy="14.4">FRANCO</tspan><tspan x="2649.5" dy="14.4">GARAIAN</tspan></text></g>
<g id="n130" class="n"><rect x="2938" y="749" width="166" height="54"/><text x="3021" y="765.6"><tspan x="3021">USA: Wheeldevil:</tspan><tspan x="3021" dy="14.4">grupo de exibición de bc</tspan><tspan x="3021" dy="14.4">en silla de ruedas</tspan></text></g>
<g id="n131" class="n"><rect x="1060" y="771" width="83" height="146"/><text x="1101.5" y="833.6"><tspan x="1101.5">KIROL</tspan><tspan x="1101.5" dy="14.4">KLASIKOA</tspan><tspan x="1101.5" dy="14.4">1940-1970</tspan></text></g>
<g id="n132" class="n o"><rect x="1299" y="763" width="122" height="25"/><text x="1360" y="779.5">ESTATALIZAZIOA</text></g>
<g id="n133" class="n o"><rect x="1299" y="795" width="118" height="25"/><text x="1358" y="811.5">FEDERAZIOPEAN</text></g>
<g id="n134" class="n o"><rect x="1299" y="827" width="76" height="24"/><text x="1337" y="843">URBANOA</text></g>
<g id="n135" class="n o"><rect x="1299" y="862" width="136" height="42"/><text x="1367" y="879.8"><tspan x="1367">INSTALAZIOETAN</tspan><tspan x="1367" dy="14.4">(ziurgabetasun eza)</tspan></text></g>
<g id="n136" class="n o"><rect x="1299" y="915" width="100" height="24"/><text x="1349" y="931">TXAPELKETAK</text></g>
<g id="n137" class="n o"><rect x="1299" y="948" width="124" height="24"/><text x="1361" y="964">ERRENDIMENDUA</text></g>
<g id="n138" class="n o"><rect x="1299" y="983" width="72" height="25"/><text x="1335" y="999.5">INDARRA</text></g>
<g id="n139" class="n"><rect x="1558" y="750" width="79" height="24"/><text x="1597.5" y="766">atletismoa</text></g>
<g id="n140" class="n"><rect x="1564" y="786" width="68" height="27"/><text x="1598" y="803.5">igeriketa</text></g>
<g id="n141" class="n"><rect x="1564" y="828" width="68" height="27"/><text x="1598" y="845.5">gimnasia</text></g>
<g id="n142" class="n"><rect x="1572" y="866" width="52" height="25"/><text x="1598" y="882.5">tenisa</text></g>
<g id="n143" class="n"><rect x="1573" y="905" width="50" height="27"/><text x="1598" y="922.5">judoa</text></g>
<g id="n144" class="n"><rect x="1551" y="959" width="90" height="42"/><text x="1596" y="976.8"><tspan x="1596">eski alpinoa</tspan><tspan x="1596" dy="14.4">pistetan</tspan></text></g>
<g id="n145" class="n"><rect x="1654" y="778" width="57" height="25"/><text x="1682.5" y="794.5">futbola</text></g>
<g id="n146" class="n"><rect x="1652" y="836" width="81" height="25"/><text x="1692.5" y="852.5">saskibaloia</text></g>
<g id="n147" class="n"><rect x="1653" y="894" width="78" height="25"/><text x="1692" y="910.5">eskubaloia</text></g>
<g id="n148" class="n"><rect x="1660" y="928" width="72" height="27"/><text x="1696" y="945.5">voleybola</text></g>
<g id="n149" class="n"><rect x="2001" y="843" width="88" height="25"/><text x="2045" y="859.5">ANDINISMO</text></g>
<g id="n150" class="n"><rect x="2239" y="843" width="130" height="69"/><text x="2304" y="859.9"><tspan x="2304">DANTZA</tspan><tspan x="2304" dy="14.4">KLASIKOAREN</tspan><tspan x="2304" dy="14.4">AGERPENA</tspan><tspan x="2304" dy="14.4">EUSKAL HERRIAN?</tspan></text></g>
<g id="n151" class="n"><rect x="2106" y="953" width="69" height="56"/><text x="2140.5" y="970.6"><tspan x="2140.5">FITNESS</tspan><tspan x="2140.5" dy="14.4">aerobika</tspan><tspan x="2140.5" dy="14.4">jogging</tspan></text></g>
<g id="n152" class="n"><rect x="2254" y="1011" width="100" height="54"/><text x="2304" y="1027.6"><tspan x="2304">DANTZA</tspan><tspan x="2304" dy="14.4">MODERNO/</tspan><tspan x="2304" dy="14.4">GARAIKIDEA?</tspan></text></g>
<g id="n153" class="n"><rect x="2010" y="1059" width="70" height="24"/><text x="2045" y="1075">EVEREST</text></g>
<g id="n154" class="n"><rect x="2337" y="1151" width="100" height="25"/><text x="2387" y="1167.5">JAZZ DANTZA</text></g>
<g id="n155" class="n"><rect x="2437" y="944" width="92" height="26"/><text x="2483" y="961">"BERBENAK"</text></g>
<g id="n156" class="n"><rect x="2437" y="975" width="94" height="25"/><text x="2484" y="991.5">DANTZA POP</text></g>
<g id="n157" class="n"><rect x="2432" y="1075" width="104" height="39"/><text x="2484" y="1091.3"><tspan x="2484">FUNKY, DISCO</tspan><tspan x="2484" dy="14.4">...</tspan></text></g>
<g id="n158" class="n"><rect x="2432" y="1325" width="104" height="39"/><text x="2484" y="1341.3"><tspan x="2484">POGO,</tspan><tspan x="2484" dy="14.4">BREAK DANCE</tspan></text></g>
<g id="n159" class="n"><rect x="3191" y="771" width="83" height="146"/><text x="3232.5" y="833.6"><tspan x="3232.5">KIROL</tspan><tspan x="3232.5" dy="14.4">KLASIKOA</tspan><tspan x="3232.5" dy="14.4">1940-1970</tspan></text></g>
<g id="n160" class="n"><rect x="2829" y="846" width="174" height="42"/><text x="2916" y="863.8"><tspan x="2916">1946: Ludwig Guttmann</tspan><tspan x="2916" dy="14.4">Deporte en silla de ruedas</tspan></text></g>
<g id="n161" class="n"><rect x="2820" y="893" width="192" height="56"/><text x="2916" y="910.6"><tspan x="2916">1948 : I Juegos de Deportes</tspan><tspan x="2916" dy="14.4">en silla de ruedas Nacionales</tspan><tspan x="2916" dy="14.4">Inglaterra</tspan></text></g>
<g id="n162" class="n"><rect x="2814" y="952" width="196" height="43"/><text x="2912" y="970.3"><tspan x="2912">1949: I torneo Nacional de bc</tspan><tspan x="2912" dy="14.4">en silla de ruedas (EEUU)</tspan></text></g>
<g id="n163" class="n"><rect x="2808" y="998" width="207" height="85"/><text x="2911.5" y="1015.7"><tspan x="2911.5">1952: I Juegos Internacionales</tspan><tspan x="2911.5" dy="14.4">de Store Mandeville, entre</tspan><tspan x="2911.5" dy="14.4">Holanda y el equipo británico.</tspan><tspan x="2911.5" dy="14.4">Se sumarán más países y</tspan><tspan x="2911.5" dy="14.4">sigue celebrándose hoy</tspan></text></g>
<g id="n164" class="n"><rect x="2801" y="1084" width="252" height="115"/><text x="2927" y="1102.3"><tspan x="2927">1960: Roma I Juegos Paraolímpicos</tspan><tspan x="2927" dy="14.4">(hoy "Paralímpicos") 400 atletas</tspan><tspan x="2927" dy="14.4">en s. de ruedas, de 23 países</tspan><tspan x="2927" dy="14.4">Fundación de la ISOD</tspan><tspan x="2927" dy="14.4">Intern. Sport Org. for the Disabled:</tspan><tspan x="2927" dy="14.4">bases para el deporte de amputados</tspan><tspan x="2927" dy="14.4">y ciegos, y luego paralíticos cerebrales</tspan></text></g>
<g id="n165" class="n"><rect x="2786" y="1200" width="274" height="28"/><text x="2923" y="1218">1964 JJPP en Tokio (370 atletas 23 países)</text></g>
<g id="n166" class="n"><rect x="2813" y="1232" width="228" height="42"/><text x="2927" y="1249.8"><tspan x="2927">1968 JJPP en Tel Aviv (750 atletas</tspan><tspan x="2927" dy="14.4">1ª participación española</tspan></text></g>
<g id="n167" class="n"><rect x="3157" y="1206" width="134" height="101"/><text x="3224" y="1224.5"><tspan x="3224">KALIFORNIAKO</tspan><tspan x="3224" dy="14.4">JARDUERAK</tspan><tspan x="3224" dy="14.4">ETA AISIALDIKO</tspan><tspan x="3224" dy="14.4">PRAKTIKEN</tspan><tspan x="3224" dy="14.4">DIBERTSIFIKAZIOA</tspan><tspan x="3224" dy="14.4">(1970-1992</tspan></text></g>
<g id="n168" class="n"><rect x="2801" y="1278" width="255" height="38"/><text x="2928.5" y="1293.8"><tspan x="2928.5">1972 JJPP en Heidelberg (1000 atletas)</tspan><tspan x="2928.5" dy="14.4">Todavía sólo en s. de ruedas</tspan></text></g>
<g id="n169" class="n"><rect x="2801" y="1321" width="241" height="57"/><text x="2921.5" y="1339.1"><tspan x="2921.5">1976 JJPP de Toronto: hito: se unen</tspan><tspan x="2921.5" dy="14.4">la ISMGF y la ISOD para organizarlas</tspan><tspan x="2921.5" dy="14.4">(1560 atletas y 40 países</tspan></text></g>
<g id="n170" class="n"><rect x="2834" y="1378" width="189" height="41"/><text x="2928.5" y="1395.3"><tspan x="2928.5">1976: I JJPP de invierno, en</tspan><tspan x="2928.5" dy="14.4">Örnsköldsvik (Suecia)</tspan></text></g>
<g id="n171" class="n"><rect x="2824" y="1422" width="209" height="42"/><text x="2928.5" y="1439.8"><tspan x="2928.5">1980: JJPP en Arnhem, Holanda</tspan><tspan x="2928.5" dy="14.4">2500 atletas, 42 países</tspan></text></g>
<g id="n172" class="n"><rect x="2599" y="1466" width="101" height="54"/><text x="2649.5" y="1482.6"><tspan x="2649.5">EUSKAL</tspan><tspan x="2649.5" dy="14.4">DANTZEN</tspan><tspan x="2649.5" dy="14.4">TXAPELKETAK</tspan></text></g>
<g id="n173" class="n"><rect x="2822" y="1468" width="226" height="57"/><text x="2935" y="1486.1"><tspan x="2935">Ciegos y paralíticos cerebrales</tspan><tspan x="2935" dy="14.4">se desligan de la ISOD y</tspan><tspan x="2935" dy="14.4">forman la IBSA y la PC-ISRA, resp.</tspan></text></g>
<g id="n174" class="n"><rect x="2450" y="1488" width="77" height="55"/><text x="2488.5" y="1505.1"><tspan x="2488.5">munduko</tspan><tspan x="2488.5" dy="14.4">dantzen</tspan><tspan x="2488.5" dy="14.4">festibalak</tspan></text></g>
<g id="n175" class="n"><rect x="2598" y="1557" width="104" height="68"/><text x="2650" y="1573.4"><tspan x="2650">EUSKAL</tspan><tspan x="2650" dy="14.4">DANTZEN</tspan><tspan x="2650" dy="14.4">KOREOGRAFIA</tspan><tspan x="2650" dy="14.4">ARTISTIKOAK</tspan></text></g>
<g id="n176" class="n"><rect x="2815" y="1529" width="282" height="68"/><text x="2956" y="1545.4"><tspan x="2956">1980: constitución del ICC</tspan><tspan x="2956" dy="14.4">con todas las fed. internacionales citadas.</tspan><tspan x="2956" dy="14.4">Rige las Paraolimpiadas y los Campeonatos</tspan><tspan x="2956" dy="14.4">intern.</tspan></text></g>
<g id="n177" class="n"><rect x="2830" y="1603" width="246" height="71"/><text x="2953" y="1620.9"><tspan x="2953">1989: La ICC se transforma en el IPC</tspan><tspan x="2953" dy="14.4">(Comité Paralímpico Internacional)</tspan><tspan x="2953" dy="14.4">asume el liderazgo del movimiento</tspan><tspan x="2953" dy="14.4">paralímpico en Barcelona 1992</tspan></text></g>
<g id="n178" class="n"><rect x="2676" y="1680" width="315" height="101"/><text x="2833.5" y="1698.5"><tspan x="2833.5">Fed. Intern. de Dep. para Discapacitados:</tspan><tspan x="2833.5" dy="14.4">CP-ISRA (Parálisis cerebral)</tspan><tspan x="2833.5" dy="14.4">IBSA (Ciegos)</tspan><tspan x="2833.5" dy="14.4">INAS-FID (discapacidad intelectual)</tspan><tspan x="2833.5" dy="14.4">ISMWSF Int. Stocke Mandeville Weellchair Sports</tspan><tspan x="2833.5" dy="14.4">ISOD (Int. Sports Org. for the Disabled</tspan></text></g>
<g id="n179" class="n"><rect x="2997" y="1758" width="138" height="68"/><text x="3066" y="1774.4"><tspan x="3066">POSMODERNITATEA</tspan><tspan x="3066" dy="14.4">ETA</tspan><tspan x="3066" dy="14.4">GLOBALIZAZIOA</tspan><tspan x="3066" dy="14.4">1992tik aurrera</tspan></text></g>
<g id="n180" class="n y"><rect x="1140" y="1061" width="205" height="43"/><text x="1242.5" y="1079.3"><tspan x="1242.5">oporrak hondartzan / mendian</tspan><tspan x="1242.5" dy="14.4">(automobilaren popularizazioa</tspan></text></g>
<g id="n181" class="n"><rect x="1426" y="1089" width="68" height="25"/><text x="1460" y="1105.5">eskalada</text></g>
<g id="n182" class="n"><rect x="1513" y="1095" width="39" height="25"/><text x="1532.5" y="1111.5">surf</text></g>
<g id="n183" class="n"><rect x="1609" y="1096" width="44" height="25"/><text x="1631" y="1112.5">skate</text></g>
<g id="n184" class="n y"><rect x="1253" y="1134" width="112" height="38"/><text x="1309" y="1149.8"><tspan x="1309">KALIFORNIAKO</tspan><tspan x="1309" dy="14.4">"KIROLA"</tspan></text></g>
<g id="n185" class="n"><rect x="1512" y="1130" width="141" height="27"/><text x="1582.5" y="1147.5">eski pistetatik kanpo</text></g>
<g id="n186" class="n"><rect x="1499" y="1161" width="184" height="43"/><text x="1591" y="1179.3"><tspan x="1591">hegaldi askea, delta hegala</tspan><tspan x="1591" dy="14.4">parapentea ...</tspan></text></g>
<g id="n187" class="n"><rect x="1034" y="1206" width="135" height="101"/><text x="1101.5" y="1224.5"><tspan x="1101.5">KALIFORNIAKO</tspan><tspan x="1101.5" dy="14.4">JARDUERAK</tspan><tspan x="1101.5" dy="14.4">ETA AISIALDIKO</tspan><tspan x="1101.5" dy="14.4">PRAKTIKEN</tspan><tspan x="1101.5" dy="14.4">DIBERTSIFIKAZIOA</tspan><tspan x="1101.5" dy="14.4">(1970-1992)</tspan></text></g>
<g id="n188" class="n o"><rect x="1390" y="1207" width="108" height="25"/><text x="1444" y="1223.5">ALTERNATIBOA</text></g>
<g id="n189" class="n o"><rect x="1382" y="1243" width="151" height="25"/><text x="1457.5" y="1259.5">FEDERAZIOETATIK AT</text></g>
<g id="n190" class="n o"><rect x="1380" y="1276" width="90" height="24"/><text x="1425" y="1292">NATURAKOA</text></g>
<g id="n191" class="n o"><rect x="1360" y="1314" width="129" height="25"/><text x="1424.5" y="1330.5">ZIURGABETASUNA</text></g>
<g id="n192" class="n o"><rect x="1350" y="1349" width="149" height="25"/><text x="1424.5" y="1365.5">EZETZA TXAPELKETEI</text></g>
<g id="n193" class="n o"><rect x="1334" y="1382" width="110" height="38"/><text x="1389" y="1397.8"><tspan x="1389">UNEAN UNEKO</tspan><tspan x="1389" dy="14.4">SENTSAZIOAK</tspan></text></g>
<g id="n194" class="n o"><rect x="1314" y="1429" width="109" height="38"/><text x="1368.5" y="1444.8"><tspan x="1368.5">TREBETASUNA,</tspan><tspan x="1368.5" dy="14.4">SLIZ</tspan></text></g>
<g id="n195" class="n y"><rect x="1205" y="1521" width="161" height="25"/><text x="1285.5" y="1537.5">EKIALDEKO PRAKTIKAK</text></g>
<g id="n196" class="n"><rect x="1474" y="1491" width="44" height="24"/><text x="1496" y="1507">yoga</text></g>
<g id="n197" class="n"><rect x="1470" y="1538" width="60" height="25"/><text x="1500" y="1554.5">karatea</text></g>
<g id="n198" class="n o"><rect x="1592" y="1557" width="93" height="27"/><text x="1638.5" y="1574.5">kirolduagoak</text></g>
<g id="n199" class="n o"><rect x="1645" y="1593" width="139" height="27"/><text x="1714.5" y="1610.5">merkantiizatuagoak</text></g>
<g id="n200" class="n o"><rect x="1655" y="1635" width="127" height="27"/><text x="1718.5" y="1652.5">garapen turistikoa</text></g>
<g id="n201" class="n o"><rect x="1307" y="1632" width="240" height="25"/><text x="1427" y="1648.5">KALIFORNIAKO PRAKTIKA BERRRIAK</text></g>
<g id="n202" class="n"><rect x="1578" y="1663" width="52" height="25"/><text x="1604" y="1679.5">tai-chi</text></g>
<g id="n203" class="n o"><rect x="1304" y="1683" width="209" height="25"/><text x="1408.5" y="1699.5">EKIALDEKO PRAKTIKA BERRIAK</text></g>
<g id="n204" class="n"><rect x="1584" y="1697" width="51" height="24"/><text x="1609.5" y="1713">aikido</text></g>
<g id="n205" class="n o"><rect x="1313" y="1723" width="215" height="25"/><text x="1420.5" y="1739.5">KIROLAREN MERKANTILIZAZIOA</text></g>
<g id="n206" class="n"><rect x="1582" y="1729" width="54" height="25"/><text x="1609" y="1745.5">karate</text></g>
<g id="n207" class="n"><rect x="1577" y="1761" width="80" height="25"/><text x="1617" y="1777.5">taekwondo</text></g>
<g id="n208" class="n"><rect x="1047" y="1757" width="138" height="69"/><text x="1116" y="1773.9"><tspan x="1116">POSMODERNITATEA</tspan><tspan x="1116" dy="14.4">ETA</tspan><tspan x="1116" dy="14.4">GLOBALIZAZIOA</tspan><tspan x="1116" dy="14.4">1992tik aurrera</tspan></text></g>
<g id="n209" class="n o"><rect x="1335" y="1764" width="117" height="25"/><text x="1393.5" y="1780.5">GLOBALIZAZIOA</text></g>
<g id="n210" class="n o"><rect x="1354" y="1811" width="263" height="25"/><text x="1485.5" y="1827.5">PARTEHARTZAILEEN DIBERTSIFIKAZIOA</text></g>
<g id="n211" class="n"><rect x="1654" y="1796" width="149" height="25"/><text x="1728.5" y="1812.5">emakumezkoen kirola</text></g>
<g id="n212" class="n"><rect x="1656" y="1823" width="117" height="27"/><text x="1714.5" y="1840.5">hirugarren adina</text></g>
<g id="n213" class="n"><rect x="1660" y="1854" width="104" height="26"/><text x="1712" y="1871">jjff inklusiboak</text></g>
<g id="n214" class="n o"><rect x="1367" y="1850" width="91" height="24"/><text x="1412.5" y="1866">utilitarismoa</text></g>
<g id="n215" class="n"><rect x="1543" y="1850" width="64" height="23"/><text x="1575" y="1865.5">osasuna</text></g>
<g id="n216" class="n o"><rect x="1263" y="1893" width="284" height="25"/><text x="1405" y="1909.5">AISIALDIKO PRAKTIKEN DIBERTSIFIKAZIOA</text></g>
<g id="n217" class="n"><rect x="1199" y="1965" width="78" height="24"/><text x="1238" y="1981">aszetikoak</text></g>
<g id="n218" class="n"><rect x="1285" y="1965" width="81" height="24"/><text x="1325.5" y="1981">hedonistak</text></g>
<g id="n219" class="n"><rect x="1376" y="1965" width="81" height="24"/><text x="1416.5" y="1981">narzisistak</text></g>
<g id="n220" class="n"><rect x="1468" y="1965" width="99" height="24"/><text x="1517.5" y="1981">etnomotorrak</text></g>
<g id="n221" class="n"><rect x="1574" y="1965" width="72" height="24"/><text x="1610" y="1981">mistikoak</text></g>
<g id="n222" class="n"><rect x="1657" y="1965" width="83" height="24"/><text x="1698.5" y="1981">eszenikoak</text></g>
<g id="n223" class="n"><rect x="1191" y="2009" width="70" height="39"/><text x="1226" y="2025.3"><tspan x="1226">kirol</tspan><tspan x="1226" dy="14.4">klasikoak</tspan></text></g>
<g id="n224" class="n"><rect x="1273" y="2009" width="84" height="55"/><text x="1315" y="2026.1"><tspan x="1315">abenturako</tspan><tspan x="1315" dy="14.4">kirolak</tspan><tspan x="1315" dy="14.4">naturan</tspan></text></g>
<g id="n225" class="n"><rect x="1365" y="2009" width="104" height="98"/><text x="1417" y="2026"><tspan x="1417">kulturismoa,</tspan><tspan x="1417" dy="14.4">muskulazioa,</tspan><tspan x="1417" dy="14.4">fitness,</tspan><tspan x="1417" dy="14.4">wellness,</tspan><tspan x="1417" dy="14.4">saloi- eta</tspan><tspan x="1417" dy="14.4">disko- dantzak</tspan></text></g>
<g id="n226" class="n"><rect x="1475" y="2009" width="102" height="114"/><text x="1526" y="2026"><tspan x="1526">Herri</tspan><tspan x="1526" dy="14.4">jokoak,</tspan><tspan x="1526" dy="14.4">Kirol</tspan><tspan x="1526" dy="14.4">tradizionalak</tspan><tspan x="1526" dy="14.4">Jai tradizional</tspan><tspan x="1526" dy="14.4">erritualduak</tspan></text></g>
<g id="n227" class="n"><rect x="1582" y="2009" width="102" height="126"/><text x="1633" y="2025.6"><tspan x="1633">Antigimnasia</tspan><tspan x="1633" dy="14.4">Dantza</tspan><tspan x="1633" dy="14.4">katartikoak</tspan><tspan x="1633" dy="14.4">Tai-chi</tspan><tspan x="1633" dy="14.4">Bioenerjetika</tspan><tspan x="1633" dy="14.4">Erlaxazioa</tspan><tspan x="1633" dy="14.4">Yoga,</tspan><tspan x="1633" dy="14.4">Eutonia</tspan></text></g>
<g id="n228" class="n"><rect x="1691" y="2009" width="93" height="126"/><text x="1737.5" y="2025.6"><tspan x="1737.5">Bizipeneko</tspan><tspan x="1737.5" dy="14.4">joku</tspan><tspan x="1737.5" dy="14.4">handiak</tspan><tspan x="1737.5" dy="14.4">(rol jokoak)</tspan><tspan x="1737.5" dy="14.4">Pait-ball</tspan><tspan x="1737.5" dy="14.4">Eskrima</tspan><tspan x="1737.5" dy="14.4">historiakoa,</tspan><tspan x="1737.5" dy="14.4">Gladiadorrak</tspan></text></g>
<g id="n229" class="n"><rect x="1993" y="1683" width="100" height="24"/><text x="2043" y="1699">ZORTZIMILAK</text></g>
<g id="n230" class="n"><rect x="2001" y="1737" width="78" height="43"/><text x="2040" y="1755.3"><tspan x="2040">oxigenorik</tspan><tspan x="2040" dy="14.4">gabe...</tspan></text></g>
<g id="n231" class="n"><rect x="2082" y="1796" width="124" height="56"/><text x="2144" y="1813.6"><tspan x="2144">WELLNESS</tspan><tspan x="2144" dy="14.4">gimnastika leunak</tspan><tspan x="2144" dy="14.4">balnearismoa</tspan></text></g>
<g id="n232" class="n"><rect x="2346" y="1689" width="88" height="25"/><text x="2390" y="1705.5">BIODANTZA</text></g>
</g>
</svg>
